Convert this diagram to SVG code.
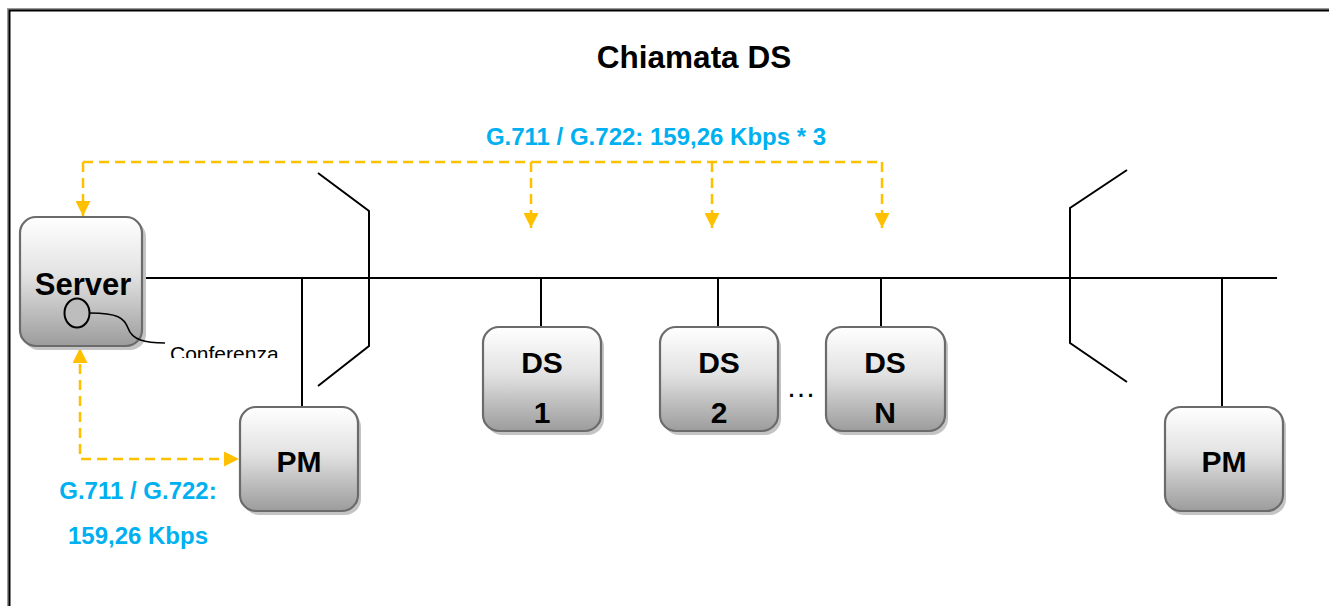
<svg xmlns="http://www.w3.org/2000/svg" width="1329" height="606" viewBox="0 0 1329 606">
  <defs>
    <linearGradient id="boxFill" x1="0" y1="0" x2="0" y2="1">
      <stop offset="0" stop-color="#ffffff"/>
      <stop offset="0.45" stop-color="#e2e2e2"/>
      <stop offset="1" stop-color="#9c9c9c"/>
    </linearGradient>
    <marker id="arrow" viewBox="0 0 16 15" refX="15" refY="7.5" markerWidth="16" markerHeight="15" markerUnits="userSpaceOnUse" orient="auto-start-reverse">
      <path d="M0,0 L15,7.5 L0,15 Z" fill="#ffc000"/>
    </marker>
    <clipPath id="labelClip">
      <rect x="160" y="330" width="140" height="28"/>
    </clipPath>
    <style>
      .box { fill: url(#boxFill); stroke: #6b6b6b; stroke-width: 2.2; }
      .shadow { fill: #c4c4c4; }
      .node-text { font-family: "Liberation Sans", Arial, sans-serif; font-weight: bold; font-size: 30px; fill: #000; text-anchor: middle; }
      .rate { font-family: "Liberation Sans", Arial, sans-serif; font-weight: bold; font-size: 24px; fill: #00b0f0; text-anchor: middle; }
      .wire { fill: none; stroke: #000; stroke-width: 2; }
      .flow { fill: none; stroke: #ffc000; stroke-width: 2.5; stroke-dasharray: 10 6; }
    </style>
  </defs>

  <rect width="1329" height="606" fill="#fff"/>

  <!-- outer frame -->
  <path d="M8.5,607 V9.5 H1330" fill="none" stroke="#9a9a9a" stroke-width="3"/>
  <path d="M9.5,607 V10.5 H1330" fill="none" stroke="#000" stroke-width="2"/>

  <text x="694" y="68" font-family="Liberation Sans, Arial, sans-serif" font-weight="bold" font-size="31.5" text-anchor="middle">Chiamata DS</text>

  <!-- network connectors -->
  <g id="connectors">
    <path class="wire" d="M142,278 H1277"/>
    <path class="wire" d="M302,278 V407"/>
    <path class="wire" d="M541,278 V327"/>
    <path class="wire" d="M718,278 V327"/>
    <path class="wire" d="M881,278 V327"/>
    <path class="wire" d="M1222,278 V407"/>
    <!-- segment boundaries -->
    <path class="wire" d="M318,173 L369,211 V346 L318,386"/>
    <path class="wire" d="M1127,170 L1070,208 V343 L1127,382"/>
    <!-- media flows -->
    <path class="flow" d="M83,162 H881"/>
    <path class="flow" d="M83,162 V216" marker-end="url(#arrow)"/>
    <path class="flow" d="M531,162 V228" marker-end="url(#arrow)"/>
    <path class="flow" d="M712,162 V228" marker-end="url(#arrow)"/>
    <path class="flow" d="M882,162 V228" marker-end="url(#arrow)"/>
    <path class="flow" d="M80,348 V459 H239" marker-start="url(#arrow)" marker-end="url(#arrow)"/>
  </g>

  <text class="rate" x="656" y="145">G.711 / G.722: 159,26 Kbps * 3</text>
  <text class="rate" x="138" y="499">G.711 / G.722:</text>
  <text class="rate" x="138" y="544">159,26 Kbps</text>

  <g id="server">
    <rect class="shadow" x="23" y="221" width="123" height="129" rx="16"/>
    <rect class="box" x="20" y="217" width="122" height="129" rx="16"/>
    <text class="node-text" x="83" y="295" style="font-size:31px">Server</text>
    <ellipse cx="77" cy="313" rx="12.5" ry="14.5" fill="#bdbdbd" stroke="#000" stroke-width="2"/>
    <path d="M90,313 C118,313 124,318 128,328 C132,340 145,343 165,343" fill="none" stroke="#000" stroke-width="1.6"/>
    <text x="170" y="361" clip-path="url(#labelClip)" font-family="Liberation Sans, Arial, sans-serif" font-size="21">Conferenza</text>
  </g>

  <g id="pm-left">
    <rect class="shadow" x="243" y="411" width="118" height="104" rx="16"/>
    <rect class="box" x="240" y="407" width="118" height="104" rx="16"/>
    <text class="node-text" x="299" y="472">PM</text>
  </g>

  <g id="ds-1">
    <rect class="shadow" x="486" y="331" width="118" height="104" rx="16"/>
    <rect class="box" x="483" y="327" width="118" height="104" rx="16"/>
    <text class="node-text" x="542" y="373">DS</text>
    <text class="node-text" x="542" y="423">1</text>
  </g>

  <g id="ds-2">
    <rect class="shadow" x="663" y="331" width="118" height="104" rx="16"/>
    <rect class="box" x="660" y="327" width="118" height="104" rx="16"/>
    <text class="node-text" x="719" y="373">DS</text>
    <text class="node-text" x="719" y="423">2</text>
  </g>

  <text x="801" y="397" font-family="Liberation Sans, Arial, sans-serif" font-size="30" text-anchor="middle">…</text>

  <g id="ds-n">
    <rect class="shadow" x="829" y="331" width="119" height="104" rx="16"/>
    <rect class="box" x="826" y="327" width="119" height="104" rx="16"/>
    <text class="node-text" x="885" y="373">DS</text>
    <text class="node-text" x="885" y="423">N</text>
  </g>

  <g id="pm-right">
    <rect class="shadow" x="1168" y="411" width="118" height="104" rx="16"/>
    <rect class="box" x="1165" y="407" width="118" height="104" rx="16"/>
    <text class="node-text" x="1224" y="472">PM</text>
  </g>
</svg>
